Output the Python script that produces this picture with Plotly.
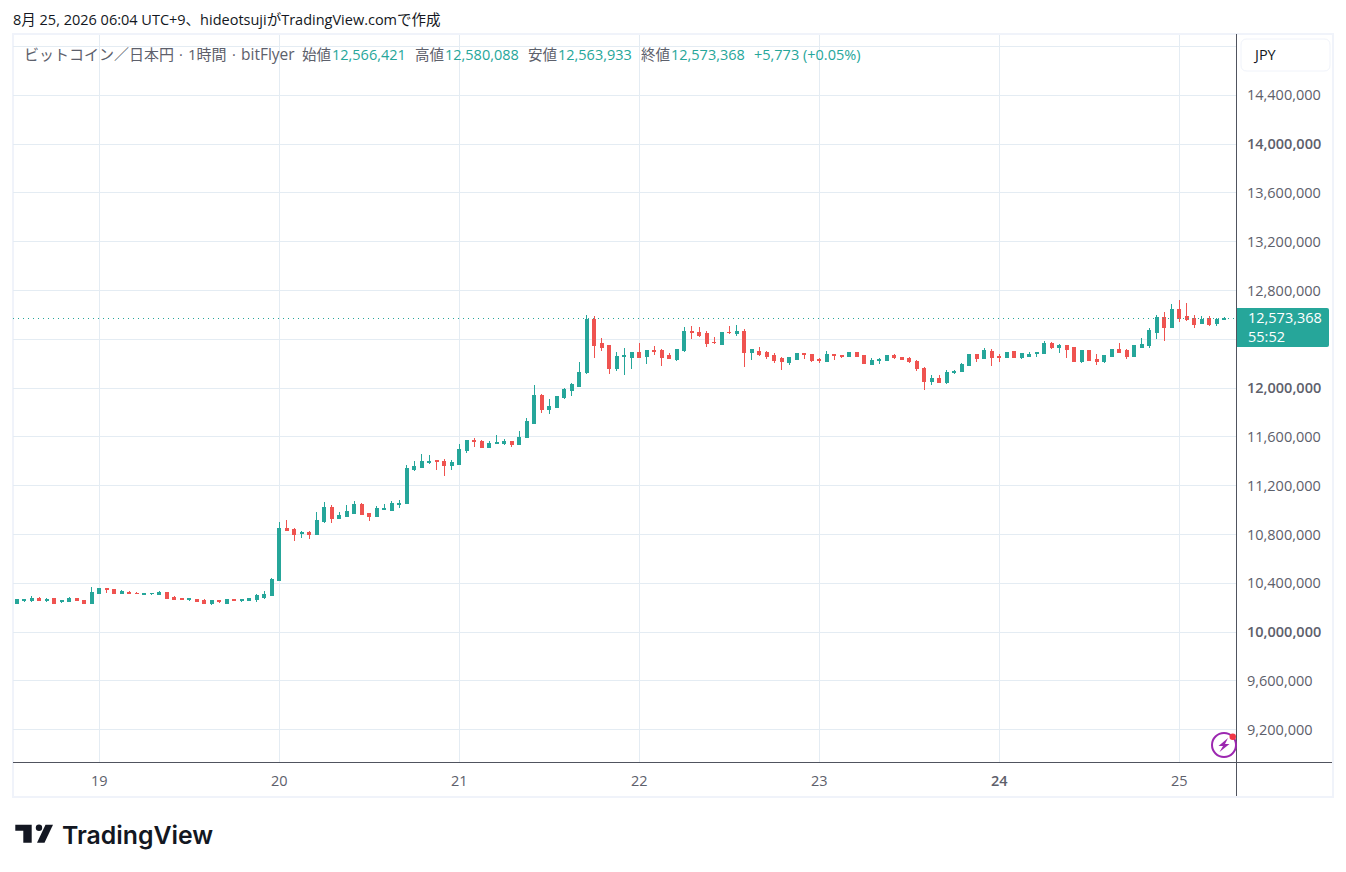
import pandas as pd
import plotly.graph_objects as go

# prices in thousands of yen, one candle per hour
open_k = [10239, 10259, 10256, 10280, 10259, 10272, 10248, 10248, 10280, 10256,
          10239, 10321, 10354, 10346, 10313, 10329, 10321, 10305, 10313, 10305,
          10329, 10288, 10272, 10267, 10264, 10256, 10239, 10256, 10239, 10264,
          10256, 10256, 10264, 10288, 10297, 10427, 10852, 10844, 10811, 10819,
          10803, 10909, 11023, 10933, 10950, 10974, 11048, 10974, 10950, 11007,
          10999, 11048, 11056, 11333, 11350, 11390, 11407, 11399, 11366, 11374,
          11488, 11570, 11562, 11513, 11546, 11546, 11562, 11537, 11595, 11709,
          11937, 11823, 11839, 11921, 11978, 12011, 12125, 12566, 12362, 12346,
          12158, 12256, 12248, 12288, 12256, 12305, 12305, 12264, 12231, 12305,
          12468, 12460, 12444, 12378, 12354, 12460, 12444, 12468, 12288, 12297,
          12288, 12264, 12239, 12207, 12231, 12280, 12272, 12231, 12215, 12278,
          12264, 12256, 12288, 12264, 12190, 12223, 12223, 12264, 12248, 12239,
          12215, 12158, 12052, 12076, 12044, 12128, 12133, 12182, 12272, 12239,
          12297, 12256, 12248, 12297, 12248, 12256, 12280, 12280, 12362, 12337,
          12346, 12329, 12215, 12305, 12231, 12215, 12256, 12313, 12305, 12256,
          12329, 12346, 12460, 12582, 12493, 12648, 12590, 12574, 12533, 12574,
          12533, 12566.421]
high_k = [10264, 10275, 10297, 10288, 10283, 10272, 10264, 10288, 10280, 10264,
          10370, 10354, 10354, 10346, 10346, 10337, 10329, 10321, 10321, 10337,
          10329, 10297, 10280, 10283, 10272, 10272, 10256, 10256, 10272, 10264,
          10264, 10280, 10313, 10337, 10443, 10901, 10917, 10852, 10827, 10827,
          10982, 11064, 11039, 10982, 11039, 11072, 11056, 10974, 11031, 11048,
          11072, 11080, 11374, 11399, 11464, 11456, 11415, 11423, 11415, 11546,
          11578, 11595, 11578, 11570, 11619, 11586, 11570, 11652, 11758, 12027,
          11954, 11913, 11937, 12003, 12044, 12215, 12599, 12590, 12411, 12354,
          12297, 12329, 12297, 12370, 12313, 12346, 12321, 12288, 12313, 12501,
          12509, 12501, 12468, 12419, 12460, 12509, 12517, 12484, 12321, 12337,
          12305, 12288, 12256, 12248, 12280, 12288, 12272, 12248, 12305, 12283,
          12272, 12297, 12297, 12264, 12248, 12248, 12272, 12280, 12256, 12256,
          12231, 12174, 12109, 12109, 12150, 12150, 12207, 12280, 12272, 12329,
          12321, 12280, 12297, 12297, 12288, 12297, 12297, 12386, 12378, 12362,
          12346, 12329, 12305, 12313, 12280, 12272, 12321, 12370, 12321, 12346,
          12411, 12493, 12599, 12623, 12688, 12721, 12697, 12599, 12590, 12590,
          12574, 12580.088]
low_k = [10231, 10248, 10248, 10256, 10248, 10239, 10239, 10248, 10256, 10231,
         10239, 10321, 10321, 10313, 10313, 10321, 10313, 10305, 10305, 10305,
         10280, 10264, 10264, 10256, 10248, 10239, 10223, 10239, 10231, 10256,
         10248, 10256, 10248, 10272, 10297, 10427, 10835, 10746, 10770, 10762,
         10803, 10893, 10893, 10933, 10950, 10966, 10966, 10909, 10950, 10999,
         10990, 11015, 11056, 11317, 11350, 11382, 11333, 11284, 11325, 11374,
         11472, 11521, 11513, 11513, 11546, 11537, 11521, 11537, 11595, 11709,
         11799, 11790, 11839, 11913, 11937, 12011, 12117, 12248, 12305, 12117,
         12141, 12109, 12158, 12248, 12199, 12272, 12182, 12239, 12223, 12297,
         12403, 12419, 12337, 12362, 12354, 12444, 12427, 12174, 12231, 12264,
         12239, 12207, 12150, 12190, 12231, 12239, 12215, 12207, 12215, 12231,
         12248, 12256, 12256, 12199, 12190, 12199, 12223, 12239, 12231, 12207,
         12142, 11986, 12027, 12044, 12035, 12117, 12133, 12182, 12215, 12239,
         12182, 12215, 12248, 12248, 12239, 12256, 12256, 12280, 12321, 12288,
         12248, 12215, 12207, 12223, 12190, 12207, 12256, 12288, 12239, 12256,
         12329, 12329, 12403, 12386, 12493, 12541, 12550, 12493, 12533, 12509,
         12509, 12563.933]
close_k = [10264, 10267, 10280, 10256, 10267, 10239, 10256, 10280, 10256, 10239,
           10329, 10354, 10346, 10313, 10337, 10321, 10313, 10313, 10321, 10329,
           10280, 10264, 10264, 10275, 10248, 10239, 10256, 10248, 10264, 10256,
           10264, 10280, 10297, 10305, 10435, 10852, 10835, 10803, 10819, 10803,
           10917, 11023, 10933, 10958, 10990, 11048, 10966, 10950, 11015, 11015,
           11056, 11056, 11341, 11358, 11399, 11399, 11399, 11366, 11390, 11497,
           11570, 11562, 11513, 11546, 11551, 11562, 11537, 11595, 11725, 11937,
           11823, 11848, 11929, 11986, 12027, 12125, 12566, 12346, 12337, 12158,
           12256, 12264, 12288, 12248, 12305, 12297, 12248, 12239, 12313, 12468,
           12452, 12435, 12362, 12370, 12460, 12452, 12468, 12288, 12313, 12272,
           12256, 12223, 12215, 12248, 12280, 12272, 12223, 12223, 12272, 12269,
           12256, 12288, 12256, 12199, 12223, 12231, 12264, 12248, 12231, 12215,
           12158, 12052, 12076, 12044, 12125, 12136, 12190, 12272, 12239, 12305,
           12248, 12248, 12288, 12248, 12280, 12272, 12288, 12362, 12329, 12346,
           12313, 12215, 12305, 12223, 12215, 12264, 12313, 12288, 12256, 12346,
           12354, 12476, 12582, 12493, 12648, 12574, 12566, 12525, 12566, 12525,
           12566, 12573.368]

times = pd.date_range("2026-08-18 13:00", periods=len(open_k), freq="h")

day_ticks = ["2026-08-19", "2026-08-20", "2026-08-21", "2026-08-22",
             "2026-08-23", "2026-08-24", "2026-08-25"]
day_labels = ["19", "20", "21", "22", "23", "<span style='font-weight:600'>24</span>", "25"]


def semi(text):
    return f"<span style='font-weight:600'>{text}</span>"


# 12,400,000 sits behind the last price tag and 14,800,000 behind the JPY button
price_ticks = [9200000, 9600000, 10000000, 10400000, 10800000, 11200000, 11600000, 12000000,
               12400000, 12800000, 13200000, 13600000, 14000000, 14400000, 14800000]
price_labels = ["9,200,000", "9,600,000", semi("10,000,000"), "10,400,000", "10,800,000",
                "11,200,000", "11,600,000", semi("12,000,000"), "", "12,800,000",
                "13,200,000", "13,600,000", semi("14,000,000"), "14,400,000", ""]

UP = "#26A69A"
DOWN = "#EF5350"
GRID = "#E4ECF3"
AXIS = "#50535E"
GREY = "#5D606B"
FONT = "'Open Sans', 'Noto Sans CJK JP', sans-serif"
SIZE = 14.5

W, H = 1346, 872
L, R, T, B = 13, 110, 35, 110


def px(x):
    return (x - L) / (W - L - R)


def py(y):
    return 1 - (y - T) / (H - T - B)


def poly(points):
    return "M" + " L".join(f"{px(x)},{py(y)}" for x, y in points) + " Z"


def round_box(x0, y0, x1, y1, r, left=True):
    # rounded rectangle path, left corners can stay square
    rl = r if left else 0
    return (f"M{px(x0 + rl)},{py(y0)} L{px(x1 - r)},{py(y0)} Q{px(x1)},{py(y0)} {px(x1)},{py(y0 + r)} "
            f"L{px(x1)},{py(y1 - r)} Q{px(x1)},{py(y1)} {px(x1 - r)},{py(y1)} L{px(x0 + rl)},{py(y1)} "
            f"Q{px(x0)},{py(y1)} {px(x0)},{py(y1 - rl)} L{px(x0)},{py(y0 + rl)} "
            f"Q{px(x0)},{py(y0)} {px(x0 + rl)},{py(y0)} Z")


def label(x, y, text, color=GREY, size=SIZE):
    # annotations carry about 2px of padding on the left
    return dict(x=px(x - 2), y=py(y), xref="paper", yref="paper", text=text, showarrow=False,
                xanchor="left", yanchor="middle", align="left",
                font=dict(family=FONT, size=size, color=color))


fig = go.Figure(go.Candlestick(
    x=times,
    open=[v * 1000 for v in open_k],
    high=[v * 1000 for v in high_k],
    low=[v * 1000 for v in low_k],
    close=[v * 1000 for v in close_k],
    increasing=dict(line=dict(color=UP, width=1), fillcolor=UP),
    decreasing=dict(line=dict(color=DOWN, width=1), fillcolor=DOWN),
    showlegend=False,
    hoverinfo="skip",
))

shapes = [
    # outer frame
    dict(type="rect", xref="paper", yref="paper", x0=px(13), x1=px(1333), y0=py(34), y1=py(797),
         line=dict(color="#F0F3FA", width=2), layer="below"),
    # last price line
    dict(type="line", xref="paper", yref="y", x0=0, x1=1, y0=close_k[-1] * 1000, y1=close_k[-1] * 1000,
         line=dict(color=UP, width=1, dash="1px,4px")),
    # axis separators
    dict(type="line", xref="paper", yref="paper", x0=px(13), x1=px(1332), y0=py(762.5), y1=py(762.5),
         line=dict(color=AXIS, width=1)),
    dict(type="line", xref="paper", yref="paper", x0=px(1236.5), x1=px(1236.5), y0=py(34), y1=py(796),
         line=dict(color=AXIS, width=1)),
    # currency button
    dict(type="path", xref="paper", yref="paper", path=round_box(1241, 39, 1330, 71, 6),
         line=dict(color="#F0F3FA", width=1), fillcolor="white"),
    # last price tag
    dict(type="path", xref="paper", yref="paper", path=round_box(1237, 308, 1329, 347, 2, left=False),
         line=dict(width=0), fillcolor=UP),
    # news icon
    dict(type="circle", xref="paper", yref="paper", x0=px(1212), x1=px(1236), y0=py(733), y1=py(757),
         line=dict(color="#9C27B0", width=2)),
    dict(type="path", xref="paper", yref="paper", line=dict(width=0), fillcolor="#9C27B0",
         path=poly([(1228, 738), (1218.5, 746), (1223, 746), (1219.5, 752), (1229.5, 744), (1225, 744)])),
    dict(type="circle", xref="paper", yref="paper", x0=px(1229.5), x1=px(1236), y0=py(733.5), y1=py(740),
         line=dict(width=0), fillcolor="#F23645"),
    # logo mark
    dict(type="path", xref="paper", yref="paper", line=dict(width=0), fillcolor="#131722",
         path=poly([(15.3, 824.7), (31.7, 824.7), (31.7, 842.7), (23.3, 842.7), (23.3, 830.7), (15.3, 830.7)])),
    dict(type="circle", xref="paper", yref="paper", x0=px(35.8), x1=px(42.2), y0=py(824.5), y1=py(830.9),
         line=dict(width=0), fillcolor="#131722"),
    dict(type="path", xref="paper", yref="paper", line=dict(width=0), fillcolor="#131722",
         path=poly([(45.5, 824.7), (53, 824.7), (44.5, 842.7), (37, 842.7)])),
]

annotations = [
    label(13, 19.5, "8月 25, 2026 06:04 UTC+9、hideotsujiがTradingView.comで作成", color="#131722"),
    label(24, 54, "ビットコイン／日本円", size=15),
    label(179, 54, "·"),
    label(188, 54, "1時間", size=15),
    label(232, 54, "·"),
    label(241, 54, "bitFlyer", size=15.5),
    label(302, 54, "始値"),
    label(332, 54, "12,566,421", color=UP),
    label(415, 54, "高値"),
    label(445, 54, "12,580,088", color=UP),
    label(528, 54, "安値"),
    label(558, 54, "12,563,933", color=UP),
    label(641, 54, "終値"),
    label(671, 54, "12,573,368", color=UP),
    label(754, 54, "+5,773 (+0.05%)", color=UP),
    label(1253, 55, "JPY", color="#131722"),
    label(1248, 327, "12,573,368<br>55:52", color="white"),
    dict(x=px(60), y=py(834.5), xref="paper", yref="paper", text="TradingView", showarrow=False,
         xanchor="left", yanchor="middle", font=dict(family="Inter", size=24.8, color="#131722", weight=600)),
]

fig.update_layout(
    width=W,
    height=H,
    margin=dict(l=L, r=R, t=T, b=B, pad=0),
    paper_bgcolor="#ffffff",
    plot_bgcolor="#ffffff",
    boxgap=0.4,
    font=dict(family=FONT, color=GREY, size=SIZE),
    shapes=shapes,
    annotations=annotations,
    xaxis=dict(
        type="date",
        range=["2026-08-18 12:30", "2026-08-25 07:33"],
        rangeslider=dict(visible=False),
        tickmode="array",
        tickvals=day_ticks,
        ticktext=day_labels,
        ticklabelstandoff=8,
        showgrid=True,
        gridcolor=GRID,
        gridwidth=1,
        zeroline=False,
        showline=False,
        ticks="",
    ),
    yaxis=dict(
        side="right",
        range=[8936000, 14894000],
        tickmode="array",
        tickvals=price_ticks,
        ticktext=price_labels,
        ticklabelstandoff=10,
        showgrid=True,
        gridcolor=GRID,
        gridwidth=1,
        zeroline=False,
        showline=False,
        ticks="",
    ),
)

fig.write_html("out.html", config=dict(displayModeBar=False),
               post_script="document.body.style.margin='0';"
                           "document.querySelectorAll('.boxlayer path').forEach("
                           "function(p){p.style.shapeRendering='crispEdges';});"
                           "document.querySelectorAll('.shapelayer path').forEach("
                           "function(p){if(p.style.strokeDasharray&&p.style.strokeDasharray!=='none')"
                           "{p.style.shapeRendering='crispEdges';}});")
